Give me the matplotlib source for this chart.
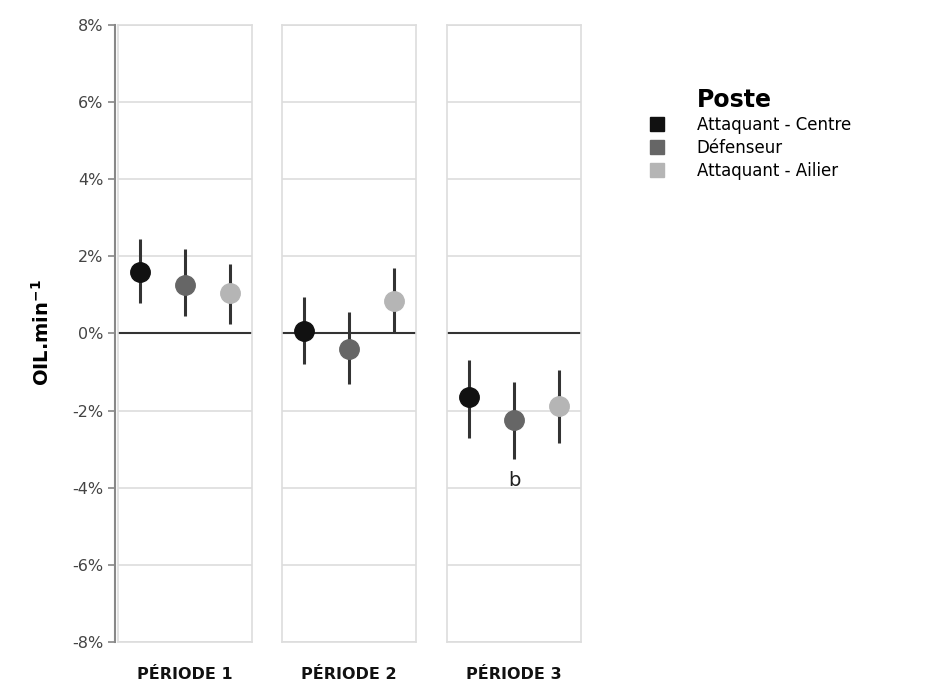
import matplotlib.pyplot as plt
from matplotlib.lines import Line2D

periods = ['PÉRIODE 1', 'PÉRIODE 2', 'PÉRIODE 3']
postes = ['Attaquant - Centre', 'Défenseur', 'Attaquant - Ailier']
colors = ['#111111', '#666666', '#b5b5b5']

# means and CI bounds (%), one row per period, one column per poste
means = [[1.60, 1.27, 1.05],
         [0.07, -0.40, 0.85],
         [-1.65, -2.25, -1.88]]
lower = [[0.80, 0.45, 0.25],
         [-0.80, -1.30, 0.05],
         [-2.70, -3.25, -2.85]]
upper = [[2.45, 2.20, 1.80],
         [0.95, 0.55, 1.70],
         [-0.70, -1.25, -0.95]]
yticks = [-8, -6, -4, -2, 0, 2, 4, 6, 8]

fig = plt.figure(figsize=(9.28, 6.86), dpi=100)
lefts = [118, 282, 447]
axes = []
for p, left in enumerate(lefts):
    ax = fig.add_axes([left / 928, 1 - 642 / 686, 134 / 928, 617 / 686])
    axes.append(ax)
    ax.set_xlim(-0.5, 2.5)
    ax.set_ylim(-8, 8)
    for y in yticks:
        ax.axhline(y, color='#dddddd', lw=1.2, zorder=0)
    ax.axhline(0, color='#333333', lw=1.5, zorder=1)
    for s in ax.spines.values():
        s.set_color('#dddddd')
        s.set_linewidth(1.2)
    for i in range(3):
        ax.plot([i, i], [lower[p][i], upper[p][i]], color='#333333', lw=2.2,
                solid_capstyle='butt', zorder=2)
        ax.plot(i, means[p][i], 'o', color=colors[i], ms=14, zorder=3)
    ax.set_xticks([])
    ax.set_yticks([])
    ax.text(0.5, -0.052, periods[p], transform=ax.transAxes, ha='center',
            va='center', fontsize=11.5, fontweight='bold', color='#111111')

axes[2].text(1, -3.8, 'b', ha='center', va='center', fontsize=14, color='#222222')

# y axis drawn just left of the first panel
yax = fig.add_axes([115 / 928, 1 - 642 / 686, 0.001, 617 / 686])
yax.set_ylim(-8, 8)
yax.set_xticks([])
for s in ['top', 'right', 'bottom']:
    yax.spines[s].set_visible(False)
yax.spines['left'].set_color('#888888')
yax.spines['left'].set_linewidth(1.5)
yax.set_yticks(yticks)
yax.set_yticklabels([f'{y}%' for y in yticks], fontsize=11.5, color='#444444')
yax.tick_params(axis='y', length=5, width=1.2, color='#888888')
yax.patch.set_visible(False)
fig.text(0.045, 1 - 333 / 686, 'OIL.min$^{\\mathbf{-1}}$', rotation=90, ha='center',
         va='center', fontsize=14, fontweight='bold')

# legend
fig.text(697 / 928, 1 - 100 / 686, 'Poste', ha='left', va='center',
         fontsize=17, fontweight='bold')
handles = [Line2D([], [], marker='s', ls='', color=c, ms=10) for c in colors]
fig.legend(handles, postes, loc='upper left', bbox_to_anchor=(650 / 928, 1 - 116 / 686),
           frameon=False, fontsize=12, handletextpad=2.0, labelspacing=0.3,
           handlelength=0.8, borderaxespad=0, borderpad=0)

fig.savefig('out.png', dpi=100)
